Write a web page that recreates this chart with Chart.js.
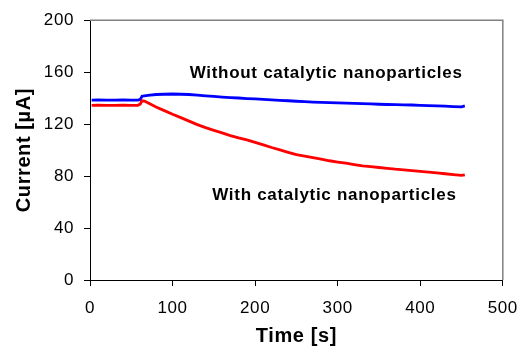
<!DOCTYPE html>
<html>
<head>
<meta charset="utf-8">
<script src="https://cdn.jsdelivr.net/npm/chart.js@4/dist/chart.umd.min.js"></script>
<style>
  html, body { margin: 0; padding: 0; background: #fff; }
  #wrap { width: 529px; height: 350px; }
</style>
</head>
<body>
<div id="wrap"><canvas id="chart" width="529" height="350"></canvas></div>
<script>
// time in seconds
const time = [2, 10, 20, 30, 40, 50, 58, 61, 63, 66, 70, 80, 90, 100, 110, 120, 130, 140, 150, 160,
  170, 180, 190, 200, 210, 220, 230, 240, 250, 260, 270, 280, 290, 300, 310, 320, 330, 340, 350, 360,
  370, 380, 390, 400, 410, 420, 430, 440, 450, 454];

// current [uA] without catalytic nanoparticles (blue)
const without = [138.5, 138.6, 138.4, 138.5, 138.6, 138.5, 138.5, 139, 141.5, 141.8, 142.2, 142.8, 143, 143.2, 143, 142.8, 142.3, 141.8, 141.3, 140.8,
  140.4, 140.1, 139.7, 139.4, 139, 138.6, 138.3, 138, 137.6, 137.3, 137, 136.8, 136.5, 136.3, 136.2, 136, 135.8, 135.6, 135.3, 135.1,
  135, 134.8, 134.7, 134.5, 134.3, 134, 133.8, 133.5, 133.3, 134];

// current [uA] with catalytic nanoparticles (red)
const withCat = [134.5, 134.6, 134.4, 134.5, 134.6, 134.5, 134.5, 135.5, 138, 137.8, 136.5, 133.2, 130.4, 127.6, 125, 122.3, 119.6, 117.3, 115.2, 113.2,
  111.2, 109.4, 107.8, 106, 104, 102, 100.2, 98.3, 96.5, 95.3, 94.2, 93, 91.8, 90.8, 89.9, 88.9, 87.9, 87.2, 86.6, 86,
  85.3, 84.8, 84.2, 83.6, 83, 82.4, 81.8, 81.2, 80.5, 81];

const xTicks = [0, 100, 200, 300, 400, 500];
const yTicks = [0, 40, 80, 120, 160, 200];

// text labels anchored in data units
const notes = [
  { text: 'Without catalytic nanoparticles', x: 286, y: 159 },
  { text: 'With catalytic nanoparticles', x: 296, y: 65 }
];

const FONT = "'Liberation Sans', Arial, sans-serif";

const frame = {
  id: 'frame',
  beforeDraw(chart) {
    chart.ctx.letterSpacing = '0.6px';
  },
  afterDatasetsDraw(chart) {
    const { ctx, chartArea: a, scales } = chart;
    ctx.save();
    ctx.strokeStyle = '#808080';
    ctx.lineWidth = 1.5;
    ctx.beginPath();
    ctx.moveTo(a.left, a.top);
    ctx.lineTo(a.right, a.top);
    ctx.lineTo(a.right, a.bottom);
    ctx.stroke();
    ctx.fillStyle = '#000';
    ctx.font = 'bold 17px ' + FONT;
    ctx.letterSpacing = '0.7px';
    ctx.textAlign = 'center';
    ctx.textBaseline = 'middle';
    notes.forEach(n => {
      ctx.fillText(n.text, scales.x.getPixelForValue(n.x), scales.y.getPixelForValue(n.y));
    });
    ctx.restore();
  }
};

new Chart(document.getElementById('chart'), {
  type: 'line',
  data: {
    datasets: [
      {
        label: 'With catalytic nanoparticles',
        data: time.map((t, i) => ({ x: t, y: withCat[i] })),
        borderColor: '#ff0000',
        borderWidth: 2.8,
        pointRadius: 0,
        tension: 0
      },
      {
        label: 'Without catalytic nanoparticles',
        data: time.map((t, i) => ({ x: t, y: without[i] })),
        borderColor: '#0000ff',
        borderWidth: 2.8,
        pointRadius: 0,
        tension: 0
      }
    ]
  },
  options: {
    responsive: false,
    animation: false,
    layout: { padding: { top: 20, right: 17, left: 0, bottom: 0 } },
    plugins: { legend: { display: false }, tooltip: { enabled: false } },
    scales: {
      x: {
        type: 'linear',
        min: 0,
        max: 500,
        afterBuildTicks: s => { s.ticks = xTicks.map(v => ({ value: v })); },
        afterFit: s => { s.height = 70; },
        grid: { drawOnChartArea: false, tickLength: 6, color: '#000' },
        border: { color: '#000', width: 1 },
        ticks: { color: '#000', padding: 12, maxRotation: 0, font: { family: FONT, size: 17 } },
        title: {
          display: true, text: 'Time [s]', color: '#000',
          padding: { top: 0, bottom: 2 },
          font: { family: FONT, size: 20, weight: 'bold' }
        }
      },
      y: {
        min: 0,
        max: 200,
        afterBuildTicks: s => { s.ticks = yTicks.map(v => ({ value: v })); },
        afterFit: s => { s.width = 90; },
        grid: { drawOnChartArea: false, tickLength: 6, color: '#000' },
        border: { color: '#000', width: 1 },
        ticks: { color: '#000', padding: 10, font: { family: FONT, size: 17 } },
        title: {
          display: true, text: 'Current [µA]', color: '#000',
          padding: { top: 12, bottom: 0 },
          font: { family: FONT, size: 20, weight: 'bold' }
        }
      }
    }
  },
  plugins: [frame]
});
</script>
</body>
</html>
